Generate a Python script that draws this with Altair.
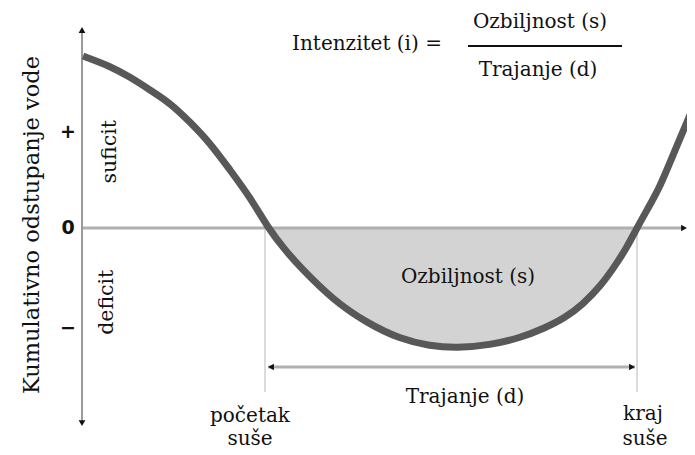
import altair as alt
import pandas as pd

# Conceptual curve: cumulative water deviation over time
t = [0.1, 2.8, 4.8, 6.8, 8.8, 10.8, 12.8, 14.8, 16.8, 18.6, 20.3, 21.8, 25.1, 28.5,
     31.8, 34.8, 37.5, 40.8, 43.8, 46.3, 48.3, 50.1, 51.8, 53.5, 54.5, 55.5, 56.5,
     57.8, 59.1, 61.3]
dev = [1.737, 1.636, 1.525, 1.394, 1.263, 1.071, 0.859, 0.586, 0.313, 0.0, -0.222,
       -0.394, -0.727, -0.960, -1.121, -1.192, -1.212, -1.182, -1.111, -1.010, -0.909,
       -0.768, -0.596, -0.354, -0.192, 0.0, 0.182, 0.414, 0.737, 1.263]

drought_start = 18.6
drought_end = 55.5

y_ticks = ["+", "0", "\u2212"]
y_tick_vals = [0.97, 0.0, -1.01]

curve = pd.DataFrame({"t": t, "dev": dev})
area_df = curve[(curve.t >= drought_start) & (curve.t <= drought_end)].copy()
area_df["zero"] = 0.0

XS = alt.Scale(domain=[-7.4, 60.5], nice=False, zero=False)
YS = alt.Scale(domain=[-2.212, 2.222], nice=False, zero=False)

def X(f):
    return alt.X(f, type="quantitative", scale=XS, axis=None)

def Y(f):
    return alt.Y(f, type="quantitative", scale=YS, axis=None)

SERIF = "DejaVu Serif"
TXT = "#111111"

area = alt.Chart(area_df).mark_area(color="#d3d3d3", interpolate="basis").encode(
    x=X("t"), y=Y("dev"), y2="zero"
)

# axes lines
rules_df = pd.DataFrame({
    "x": [0.0, 0.0, 18.3, 55.5, 18.6],
    "x2": [60.2, 0.0, 18.3, 55.5, 55.3],
    "y": [0.0, 2.0, 0.0, 0.0, -1.404],
    "y2": [0.0, -1.97, -1.657, -1.657, -1.404],
    "kind": ["zero", "yaxis", "v", "v", "dur"],
})
zero_rule = alt.Chart(rules_df[rules_df.kind == "zero"]).mark_rule(color="#b0b0b0", strokeWidth=3).encode(
    x=X("x"), x2="x2", y=Y("y"), y2="y2")
yaxis_rule = alt.Chart(rules_df[rules_df.kind == "yaxis"]).mark_rule(color="#9a9a9a", strokeWidth=2).encode(
    x=X("x"), x2="x2", y=Y("y"), y2="y2")
v_rules = alt.Chart(rules_df[rules_df.kind == "v"]).mark_rule(color="#cfcfcf", strokeWidth=1.5).encode(
    x=X("x"), x2="x2", y=Y("y"), y2="y2")
dur_rule = alt.Chart(rules_df[rules_df.kind == "dur"]).mark_rule(color="#b0b0b0", strokeWidth=3).encode(
    x=X("x"), x2="x2", y=Y("y"), y2="y2")

line = alt.Chart(curve).mark_line(color="#585858", strokeWidth=7, interpolate="basis", clip=True).encode(
    x=X("t"), y=Y("dev"))

arrows_df = pd.DataFrame({
    "x": [0.0, 0.0, 60.2, 18.9, 55.0],
    "y": [2.0, -1.97, 0.0, -1.404, -1.404],
    "shape": ["triangle-up", "triangle-down", "triangle-right", "triangle-left", "triangle-right"],
})
arrows = alt.Chart(arrows_df).mark_point(filled=True, color="#111111", size=45, opacity=1).encode(
    x=X("x"), y=Y("y"), shape=alt.Shape("shape:N", scale=None))

ticks_df = pd.DataFrame({"x": [-1.4] * 3, "y": y_tick_vals, "label": y_ticks})
ticks = alt.Chart(ticks_df).mark_text(font="DejaVu Sans", fontWeight="bold", fontSize=19, color="#111111").encode(
    x=X("x"), y=Y("y"), text="label:N")

# rotated labels
rot_df = pd.DataFrame({
    "x": [-5.0, 2.8, 2.5],
    "y": [0.03, 0.77, -0.75],
    "label": ["Kumulativno odstupanje vode", "suficit", "deficit"],
})
rot_title = alt.Chart(rot_df.iloc[[0]]).mark_text(font=SERIF, fontSize=22.5, angle=270, color=TXT).encode(
    x=X("x"), y=Y("y"), text="label:N")
rot_small = alt.Chart(rot_df.iloc[1:]).mark_text(font=SERIF, fontSize=20.5, angle=270, color=TXT).encode(
    x=X("x"), y=Y("y"), text="label:N")

lab_df = pd.DataFrame({
    "x": [28.5, 45.8, 45.6, 38.6, 38.3, 16.8, 16.8, 56.1, 56.3],
    "y": [1.86, 2.08, 1.596, -0.495, -1.707, -1.899, -2.131, -1.879, -2.131],
    "label": ["Intenzitet (i) =", "Ozbiljnost (s)", "Trajanje (d)", "Ozbiljnost (s)",
              "Trajanje (d)", "početak", "suše", "kraj", "suše"],
})
labels = alt.Chart(lab_df).mark_text(font=SERIF, fontSize=20, color=TXT).encode(
    x=X("x"), y=Y("y"), text="label:N")

frac_df = pd.DataFrame({"x": [38.6], "x2": [54.0], "y": [1.838]})
frac = alt.Chart(frac_df).mark_rule(color="#111111", strokeWidth=2).encode(
    x=X("x"), x2="x2", y=Y("y"))

chart = alt.layer(
    area, v_rules, zero_rule, yaxis_rule, dur_rule, line, arrows, ticks,
    rot_title, rot_small, labels, frac
).properties(
    width=679, height=439, padding=0, autosize="none", background="white"
).configure_view(stroke=None)

chart.save("out.html", embed_options={"renderer": "svg", "actions": False})
